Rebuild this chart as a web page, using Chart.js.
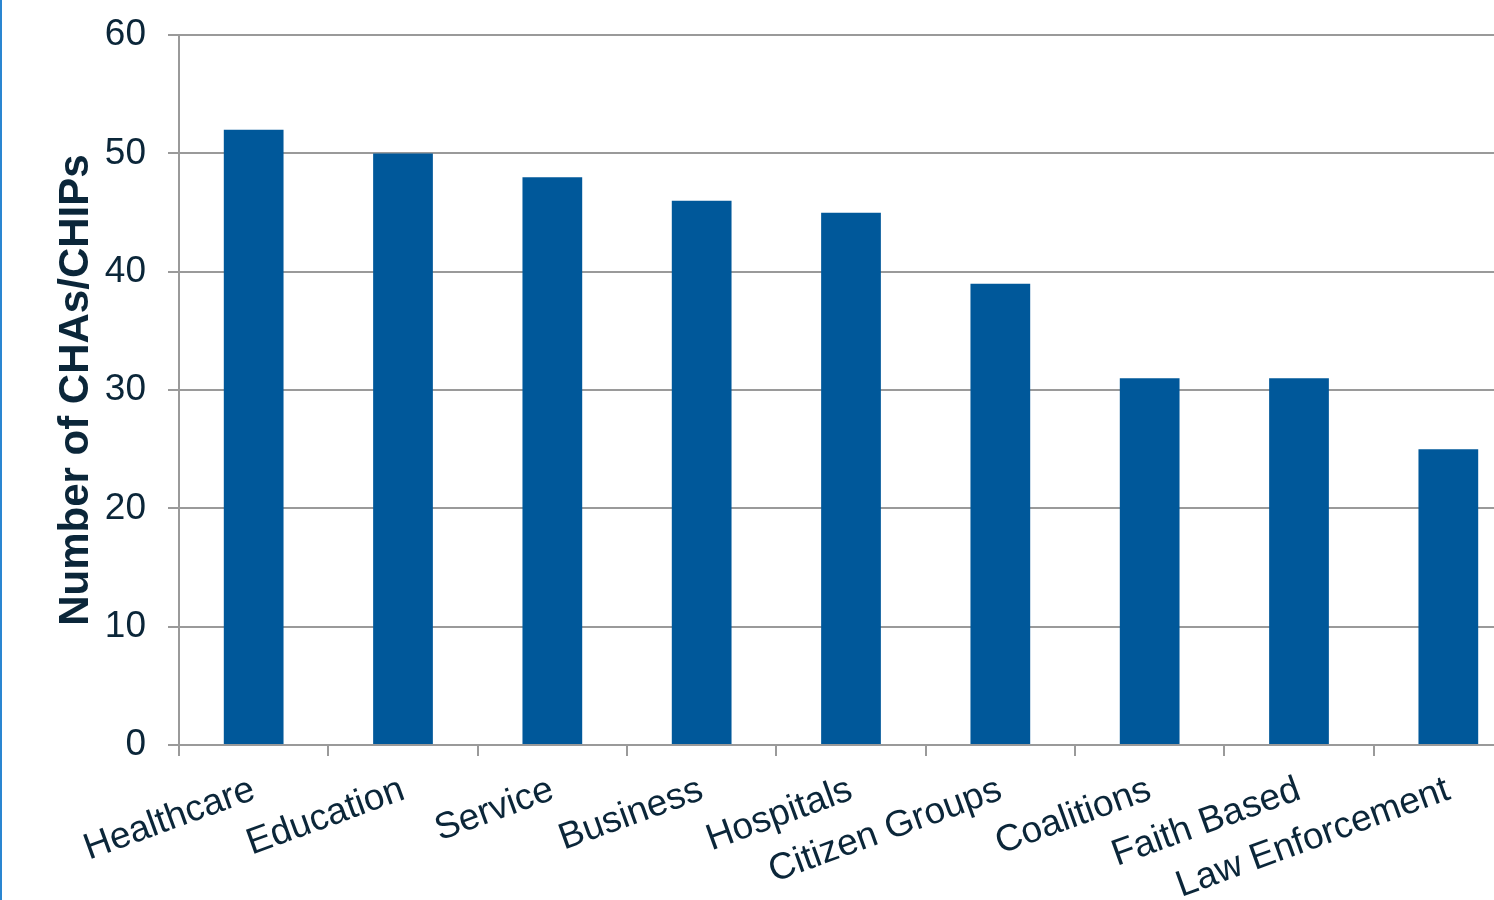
<!DOCTYPE html>
<html>
<head>
<meta charset="utf-8">
<script src="https://cdn.jsdelivr.net/npm/chart.js@4"></script>
<style>
    html, body { margin: 0; padding: 0; background: #fff; overflow: hidden; }
    .wrap {
        position: absolute; left: 0; top: -9px;
        width: 1521px; height: 909px;
        border-left: 2px solid #2a86d1;
    }
</style>
</head>
<body>
<div class="wrap"><canvas id="barChart"></canvas></div>
<script>
const categories = ["Healthcare", "Education", "Service", "Business", "Hospitals",
    "Citizen Groups", "Coalitions", "Faith Based", "Law Enforcement"];
const counts = [52, 50, 48, 46, 45, 39, 31, 31, 25];
const yTicks = [0, 10, 20, 30, 40, 50, 60];

const textColor = "#0b2639";
const gridColor = "#9a9a9a";

document.addEventListener("DOMContentLoaded", function () {
    const ctx = document.getElementById("barChart").getContext("2d");
    new Chart(ctx, {
        type: "bar",
        data: {
            labels: categories,
            datasets: [{
                label: "Number of CHAs/CHIPs",
                data: counts,
                backgroundColor: "#00589a",
                barPercentage: 0.4,
                categoryPercentage: 1.0
            }]
        },
        options: {
            responsive: true,
            maintainAspectRatio: false,
            animation: false,
            layout: { padding: { top: 28, right: 0, left: 0, bottom: 0 } },
            plugins: { legend: { display: false }, tooltip: { enabled: false } },
            scales: {
                x: {
                    grid: { drawOnChartArea: false, offset: true, color: gridColor, lineWidth: 2, tickLength: 11 },
                    border: { color: gridColor, width: 2 },
                    ticks: {
                        color: textColor,
                        font: { family: "'Liberation Sans', Arial", size: 37 },
                        maxRotation: 20, minRotation: 20,
                        autoSkip: false,
                        padding: 12
                    },
                    afterFit: function (scale) { scale.height = 155; }
                },
                y: {
                    min: 0, max: 60,
                    afterBuildTicks: function (scale) {
                        scale.ticks = yTicks.map(v => ({ value: v }));
                    },
                    grid: { color: gridColor, lineWidth: 2, tickLength: 11 },
                    border: { color: gridColor, width: 2 },
                    ticks: {
                        color: textColor,
                        font: { family: "'Liberation Sans', Arial", size: 37 },
                        padding: 22
                    },
                    title: {
                        display: true,
                        text: "Number of CHAs/CHIPs",
                        color: textColor,
                        font: { family: "'Liberation Sans', Arial", size: 42, weight: "bold" },
                        padding: { top: 49, bottom: 0 }
                    },
                    afterFit: function (scale) { scale.width = 177; }
                }
            }
        }
    });
});
</script>
</body>
</html>
